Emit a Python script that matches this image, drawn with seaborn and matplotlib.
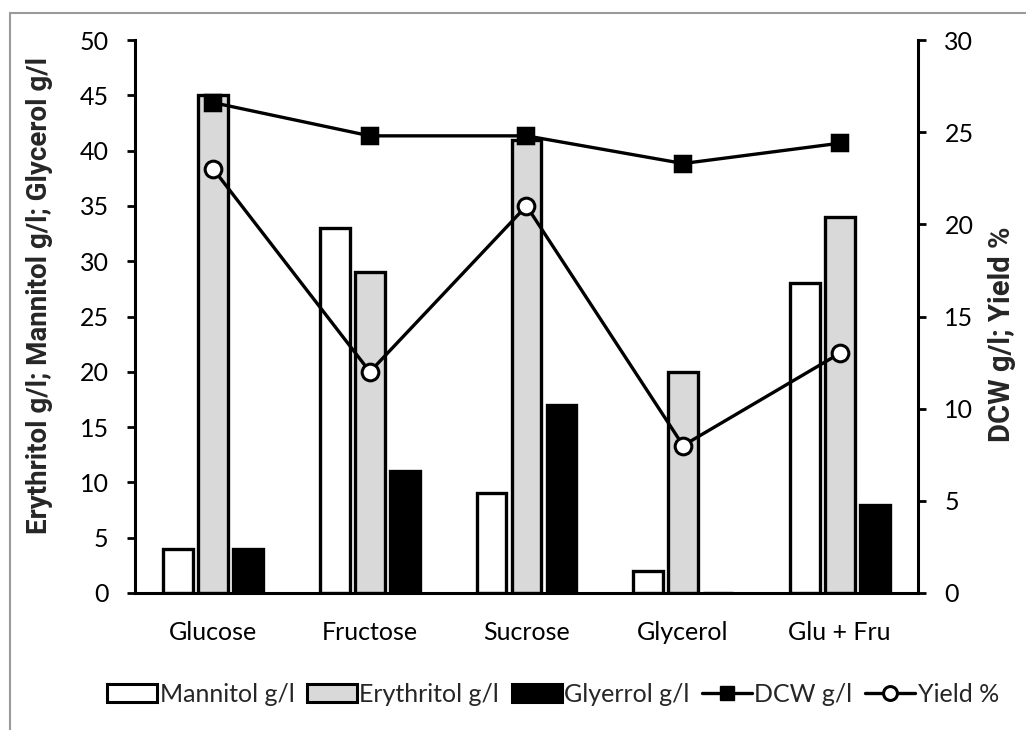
import matplotlib
matplotlib.use("Agg")
import matplotlib.pyplot as plt
import seaborn as sns
import pandas as pd
from matplotlib.patches import Patch
from matplotlib.lines import Line2D

categories = ["Glucose", "Fructose", "Sucrose", "Glycerol", "Glu + Fru"]
mannitol = [4, 33, 9, 2, 28]
erythritol = [45, 29, 41, 20, 34]
glycerol = [4, 11, 17, 0, 8]
dcw = [26.6, 24.8, 24.8, 23.3, 24.4]
yield_pct = [23, 12, 21, 8, 13]
bar_series = ["Mannitol g/l", "Erythritol g/l", "Glyerrol g/l"]
left_ticks = [0, 5, 10, 15, 20, 25, 30, 35, 40, 45, 50]
right_ticks = [0, 5, 10, 15, 20, 25, 30]

sns.set_style("ticks")
plt.rcParams["font.family"] = ["Lato", "DejaVu Sans"]

df = pd.DataFrame({
    "Carbon": categories * 3,
    "Series": [bar_series[0]] * 5 + [bar_series[1]] * 5 + [bar_series[2]] * 5,
    "value": mannitol + erythritol + glycerol,
})
palette = {bar_series[0]: "white", bar_series[1]: "#D9D9D9", bar_series[2]: "black"}

fig = plt.figure(figsize=(10.26, 7.30), dpi=100)
ax = fig.add_axes([135 / 1026, 1 - 593 / 730, 783 / 1026, 553 / 730])
sns.barplot(data=df, x="Carbon", y="value", hue="Series", hue_order=bar_series,
            order=categories, palette=palette, edgecolor="black", linewidth=2.4,
            width=0.67, gap=0.15, legend=False, ax=ax, zorder=2)

ax2 = ax.twinx()
sns.pointplot(x=categories, y=dcw, ax=ax2, color="black", markers="s",
              markersize=11, linewidth=2.4, errorbar=None)
sns.pointplot(x=categories, y=yield_pct, ax=ax2, color="black", markers="o",
              markersize=12, linewidth=2.4, errorbar=None,
              markerfacecolor="white", markeredgecolor="black", markeredgewidth=2.2)

ax.set_xlim(-0.5, 4.5)
ax.set_ylim(0, 50)
ax2.set_ylim(0, 30)
ax.set_yticks(left_ticks)
ax2.set_yticks(right_ticks)
ax.set_yticklabels([str(t) for t in left_ticks])
ax2.set_yticklabels([str(t) for t in right_ticks])

for a in (ax, ax2):
    a.spines["top"].set_visible(False)
    for s in a.spines.values():
        s.set_linewidth(2.2)
        s.set_color("black")
ax.spines["right"].set_visible(False)
ax2.spines["left"].set_visible(False)
ax2.spines["bottom"].set_visible(False)

fs = 18
ax.tick_params(axis="y", direction="out", length=6, width=2, labelsize=fs, pad=13, colors="black")
ax2.tick_params(axis="y", direction="out", length=6, width=2, labelsize=fs, pad=13, colors="black")
ax.tick_params(axis="x", length=0, labelsize=fs, pad=20, colors="black")
ax2.tick_params(axis="x", length=0)

ax.set_xlabel("")
ax2.set_xlabel("")
ax.set_ylabel("Erythritol g/l; Mannitol g/l; Glycerol g/l", fontsize=20,
              fontweight="bold", family=["Roboto", "DejaVu Sans"])
ax2.set_ylabel("DCW g/l; Yield %", fontsize=21, fontweight="bold",
               family=["Roboto", "DejaVu Sans"])
ax.yaxis.set_label_coords((53 - 135) / 783, 1 - (296 - 40) / 553)
ax2.yaxis.set_label_coords((988 - 135) / 783, 1 - (334 - 40) / 553)

handles = [
    Patch(facecolor="white", edgecolor="black", linewidth=2.2),
    Patch(facecolor="#D9D9D9", edgecolor="black", linewidth=2.2),
    Patch(facecolor="black", edgecolor="black", linewidth=2.2),
    Line2D([], [], color="black", linewidth=2.4, marker="s", markersize=10),
    Line2D([], [], color="black", linewidth=2.4, marker="o", markersize=10,
           markerfacecolor="white", markeredgewidth=2.2),
]
labels = ["Mannitol g/l", "Erythritol g/l", "Glyerrol g/l", "DCW g/l", "Yield %"]
fig.legend(handles, labels, loc="center", bbox_to_anchor=(553 / 1026, 1 - 694 / 730),
           ncol=5, frameon=False, fontsize=fs, handlelength=2.0, handletextpad=0.1,
           columnspacing=0.5, borderaxespad=0)

# chart-area border (partly outside the visible image)
fig.add_artist(Line2D([10 / 1026, 1.0], [1 - 13 / 730, 1 - 13 / 730],
                      transform=fig.transFigure, color="#9a9a9a", linewidth=1.5))
fig.add_artist(Line2D([10 / 1026, 10 / 1026], [0.0, 1 - 13 / 730],
                      transform=fig.transFigure, color="#9a9a9a", linewidth=1.5))

fig.savefig("out.png", dpi=100)
